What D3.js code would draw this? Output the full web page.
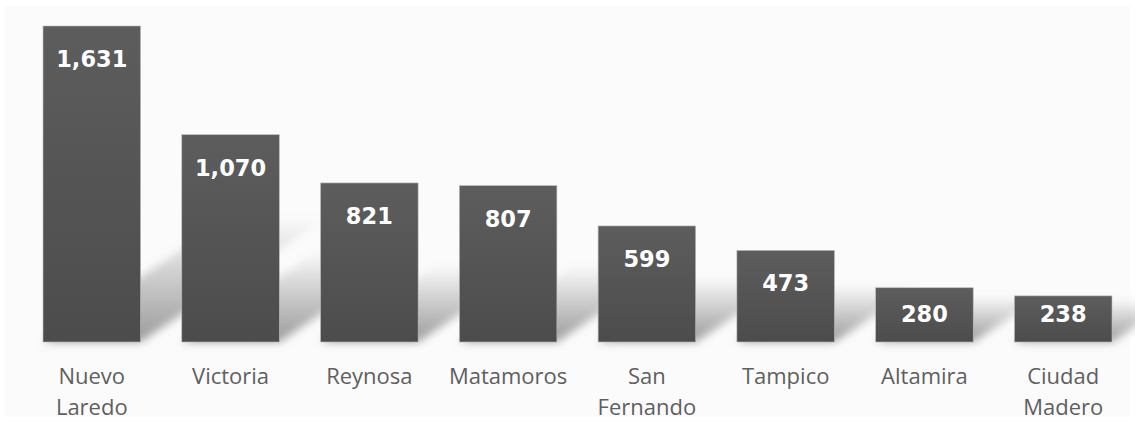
<!DOCTYPE html>
<html><head><meta charset="utf-8">
<script src="https://cdn.jsdelivr.net/npm/d3@7"></script>
<style>html,body{margin:0;padding:0;background:#fff;}svg{display:block;}</style>
</head><body>
<svg id="chart" width="1135" height="421"></svg>
<script>
const categories = [["Nuevo","Laredo"],["Victoria"],["Reynosa"],["Matamoros"],["San","Fernando"],["Tampico"],["Altamira"],["Ciudad","Madero"]];
const values = [1631,1070,821,807,599,473,280,238];
const valueLabels = ["1,631","1,070","821","807","599","473","280","238"];

const svg = d3.select("#chart");
const W = 1135, H = 421;
const keys = categories.map(c => c.join(" "));

svg.append("rect").attr("x",5).attr("y",6).attr("width",W-10).attr("height",H-10).attr("fill","#fbfbfb");

const x = d3.scaleBand().domain(keys).range([22.4,1132.6]).paddingInner(0.297).paddingOuter(0.1485);
const y = d3.scaleLinear().domain([0,1631]).range([342,26]);

const defs = svg.append("defs");
const grad = defs.append("linearGradient").attr("id","barGrad").attr("x1",0).attr("y1",0).attr("x2",0).attr("y2",1);
grad.append("stop").attr("offset","0%").attr("stop-color","#5d5d5d");
grad.append("stop").attr("offset","100%").attr("stop-color","#4c4c4c");
const blur = defs.append("filter").attr("id","blur").attr("x","-50%").attr("y","-50%").attr("width","200%").attr("height","200%");
blur.append("feGaussianBlur").attr("stdDeviation",4);

const base = y(0);
// shadows
const sh = svg.append("g").attr("filter","url(#blur)");
values.forEach((v,i) => {
  const h = base - y(v);
  const sH = 0.3*h + 30;
  const dx = sH*1.5;
  const x0 = x(keys[i]), x1 = x0 + x.bandwidth();
  const gid = "sg"+i;
  const g = defs.append("linearGradient").attr("id",gid).attr("gradientUnits","userSpaceOnUse")
    .attr("x1",0).attr("y1",base).attr("x2",0).attr("y2",base-sH);
  g.append("stop").attr("offset","0%").attr("stop-color","#8a8a8a").attr("stop-opacity",0.85);
  g.append("stop").attr("offset","100%").attr("stop-color","#8a8a8a").attr("stop-opacity",0);
  sh.append("path")
    .attr("d",`M${x0},${base}L${x1},${base}L${x1+dx},${base-sH}L${x0+dx},${base-sH}Z`)
    .attr("fill",`url(#${gid})`);
});

// bars
svg.selectAll("rect.bar").data(values).join("rect").attr("class","bar")
  .attr("x",(d,i)=>x(keys[i])).attr("y",d=>y(d))
  .attr("width",x.bandwidth()).attr("height",d=>base-y(d))
  .attr("fill","url(#barGrad)").attr("stroke","#bdbdbd").attr("stroke-width",0.6);

// value labels
svg.selectAll("text.val").data(values).join("text").attr("class","val")
  .attr("x",(d,i)=>x(keys[i])+x.bandwidth()/2).attr("y",d=>Math.min(y(d)+41, base-20))
  .attr("text-anchor","middle").attr("fill","#ffffff")
  .attr("font-family","DejaVu Sans").attr("font-weight","bold").attr("font-size",22.5)
  .text((d,i)=>valueLabels[i]);

// category labels
const cl = svg.selectAll("text.cat").data(categories).join("text").attr("class","cat")
  .attr("x",(d,i)=>x(keys[i])+x.bandwidth()/2).attr("y",384)
  .attr("text-anchor","middle").attr("fill","#5f5f5f")
  .attr("font-family","Open Sans").attr("font-size",22);
cl.selectAll("tspan").data(d=>d).join("tspan")
  .attr("x",function(){return this.parentNode.getAttribute("x");})
  .attr("dy",(d,j)=>j===0?0:31).text(d=>d);
</script>
</body></html>
